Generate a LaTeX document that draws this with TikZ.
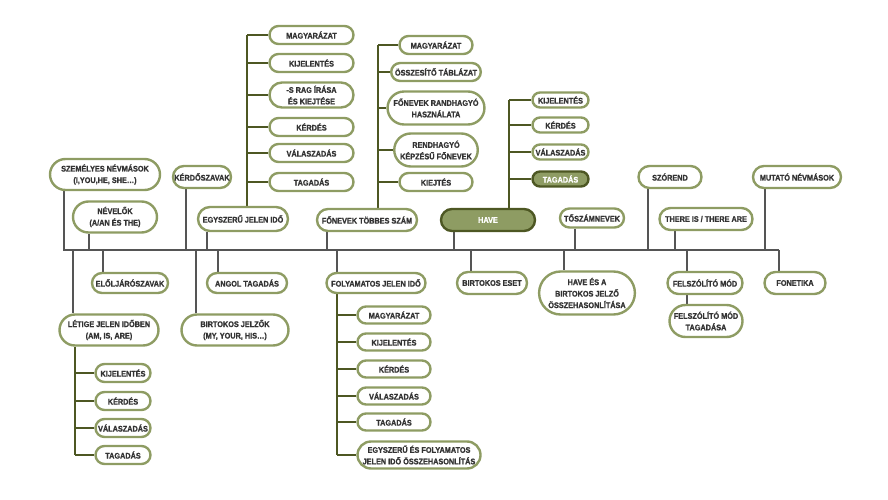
\documentclass[tikz,border=0pt]{standalone}
\usepackage{fontspec}
\setmainfont{Liberation Sans}[FakeStretch=0.9, BoldFeatures={FakeBold=1.2}]
\usetikzlibrary{shapes.misc,backgrounds}
\definecolor{leaf}{HTML}{8E9C63}
\definecolor{moss}{HTML}{4D5723}
\definecolor{ink}{HTML}{333333}
\definecolor{bark}{HTML}{555555}
\tikzset{
  pill/.style={rounded rectangle, draw=leaf, line width=2.4pt, fill=white, text=ink,
    font=\bfseries\fontsize{8.1}{11.5}\selectfont, align=center, inner xsep=3pt, inner ysep=1pt,
    minimum height=22pt},
  leafpill/.style={pill, minimum height=18pt},
  pillon/.style={pill, draw=moss, fill=leaf, text=white},
  trunk/.style={draw=bark, line width=2.2pt},
  twig/.style={draw=moss, line width=2.4pt},
}
% stems to the spine
\def\up#1#2{\draw[trunk] (#1.south -| #2,0) -- (spine -| #2,0);}
\def\dn#1#2{\draw[trunk] (spine -| #2,0) -- (#1.north -| #2,0);}
% #1 parent anchor, #2 x, #3 far child, #4 children
\def\twigs#1#2#3#4{\draw[twig] (#1 -| #2,0) -- (#3.west -| #2,0);
  \foreach \kid in {#4} \draw[twig] (\kid.west -| #2,0) -- (\kid.west);}

\begin{document}
\begin{tikzpicture}[x=1pt,y=-1pt]
\useasboundingbox (0,0) rectangle (888,500);
\coordinate (spine) at (0,250);

% above the spine
\node[pill, minimum width=116pt, minimum height=31pt] (szem) at (105,174.5) {SZEMÉLYES NÉVMÁSOK\\(I,YOU,HE, SHE…)};
\node[pill, minimum width=90pt, minimum height=31pt] (nevelo) at (115,217) {NÉVELŐK\\(A/AN ÉS THE)};
\node[pill, minimum width=64pt] (kerdo) at (202,177) {KÉRDŐSZAVAK};
\node[pill, minimum width=96pt, minimum height=24pt] (egysz) at (243,219) {EGYSZERŰ JELEN IDŐ};
\node[pill, minimum width=106pt] (fonev) at (367,220) {FŐNEVEK TÖBBES SZÁM};
\node[pillon, minimum width=100pt] (have) at (488,220) {HAVE};
\node[pill, minimum width=70pt, minimum height=19pt] (toszam) at (592,218) {TŐSZÁMNEVEK};
\node[pill, minimum width=69pt] (szorend) at (670,177) {SZÓREND};
\node[pill, minimum width=99pt] (there) at (706,219) {THERE IS / THERE ARE};
\node[pill, minimum width=94pt] (mutato) at (797,177) {MUTATÓ NÉVMÁSOK};

% egyszeru jelen ido
\node[leafpill, minimum width=90pt] (e1) at (311.5,35) {MAGYARÁZAT};
\node[leafpill, minimum width=90pt] (e2) at (311.5,63) {KIJELENTÉS};
\node[leafpill, minimum width=90pt, minimum height=25pt] (e3) at (311.5,95) {-S RAG ÍRÁSA\\ÉS KIEJTÉSE};
\node[leafpill, minimum width=90pt] (e4) at (311.5,127) {KÉRDÉS};
\node[leafpill, minimum width=90pt] (e5) at (311.5,153) {VÁLASZADÁS};
\node[leafpill, minimum width=90pt] (e6) at (311.5,182) {TAGADÁS};

% fonevek tobbes szam
\node[leafpill, minimum width=79pt] (f1) at (436,45) {MAGYARÁZAT};
\node[leafpill, minimum width=79pt] (f2) at (436,72) {ÖSSZESÍTŐ TÁBLÁZAT};
\node[leafpill, minimum width=79pt, minimum height=33pt] (f3) at (436,108) {FŐNEVEK RANDHAGYÓ\\HASZNÁLATA};
\node[leafpill, minimum width=79pt, minimum height=33pt] (f4) at (436,150) {RENDHAGYÓ\\KÉPZÉSŰ FŐNEVEK};
\node[leafpill, minimum width=79pt] (f5) at (436,182) {KIEJTÉS};

% have
\node[leafpill, minimum width=62pt, minimum height=15pt] (h1) at (560.5,100) {KIJELENTÉS};
\node[leafpill, minimum width=62pt, minimum height=15pt] (h2) at (560.5,125) {KÉRDÉS};
\node[leafpill, minimum width=62pt, minimum height=15pt] (h3) at (560.5,152) {VÁLASZADÁS};
\node[pillon, minimum width=62pt, minimum height=15pt] (h4) at (560.5,179) {TAGADÁS};

% below the spine
\node[pill, minimum width=82pt, minimum height=20pt] (elolj) at (130,283) {ELŐLJÁRÓSZAVAK};
\node[pill, minimum width=105pt, minimum height=31pt] (letige) at (109,330) {LÉTIGE JELEN IDŐBEN\\(AM, IS, ARE)};
\node[pill, minimum width=86pt, minimum height=20pt] (angol) at (247,283) {ANGOL TAGADÁS};
\node[pill, minimum width=113pt, minimum height=31pt] (birtj) at (235,330) {BIRTOKOS JELZŐK\\(MY, YOUR, HIS…)};
\node[pill, minimum width=105pt, minimum height=20pt] (folyam) at (376,283) {FOLYAMATOS JELEN IDŐ};
\node[pill, minimum width=76pt] (birteset) at (492,283) {BIRTOKOS ESET};
\node[pill, minimum width=93pt, minimum height=43pt] (haveesa) at (587,293) {HAVE ÉS A\\BIRTOKOS JELZŐ\\ÖSSZEHASONLÍTÁSA};
\node[pill, minimum width=81pt] (felsz) at (705,283) {FELSZÓLÍTÓ MÓD};
\node[pill, minimum width=79pt, minimum height=32pt] (felszt) at (706,321) {FELSZÓLÍTÓ MÓD\\TAGADÁSA};
\node[pill, minimum width=67pt] (fonetika) at (795,283) {FONETIKA};

% letige
\node[leafpill, minimum width=61pt] (l1) at (123,373) {KIJELENTÉS};
\node[leafpill, minimum width=61pt] (l2) at (123,401) {KÉRDÉS};
\node[leafpill, minimum width=61pt] (l3) at (123,428) {VÁLASZADÁS};
\node[leafpill, minimum width=61pt] (l4) at (123,455) {TAGADÁS};

% folyamatos jelen ido
\node[leafpill, minimum width=79pt, minimum height=17pt] (p1) at (394,315) {MAGYARÁZAT};
\node[leafpill, minimum width=79pt, minimum height=17pt] (p2) at (394,342) {KIJELENTÉS};
\node[leafpill, minimum width=79pt, minimum height=17pt] (p3) at (394,369) {KÉRDÉS};
\node[leafpill, minimum width=79pt, minimum height=17pt] (p4) at (394,396) {VÁLASZADÁS};
\node[leafpill, minimum width=79pt, minimum height=17pt] (p5) at (394,422) {TAGADÁS};
\node[leafpill, minimum width=129pt, minimum height=27pt] (p6) at (419,455) {EGYSZERŰ ÉS FOLYAMATOS\\JELEN IDŐ ÖSSZEHASONLÍTÁS};

\begin{pgfonlayer}{background}
  \draw[trunk] (63,250) coordinate (spineL) -- (779,250) coordinate (spineR);
  \up{szem}{64} \up{nevelo}{89} \up{kerdo}{186} \up{egysz}{207} \up{fonev}{327}
  \up{have}{454} \up{toszam}{575} \up{szorend}{648} \up{there}{675} \up{mutato}{765}
  \dn{letige}{73} \dn{elolj}{103} \dn{birtj}{196} \dn{angol}{218} \dn{folyam}{337}
  \dn{birteset}{471} \dn{haveesa}{564} \dn{felsz}{687} \dn{fonetika}{779}
  \draw[trunk] (felsz.south -| 687,0) -- (felszt.north -| 687,0);
  \twigs{egysz.north}{247}{e1}{e1,e2,e3,e4,e5,e6}
  \twigs{fonev.north}{378}{f1}{f1,f2,f3,f4,f5}
  \twigs{have.north}{509}{h1}{h1,h2,h3,h4}
  \twigs{letige.south}{75}{l4}{l1,l2,l3,l4}
  \twigs{folyam.south}{337}{p6}{p1,p2,p3,p4,p5,p6}
\end{pgfonlayer}
\end{tikzpicture}
\end{document}
